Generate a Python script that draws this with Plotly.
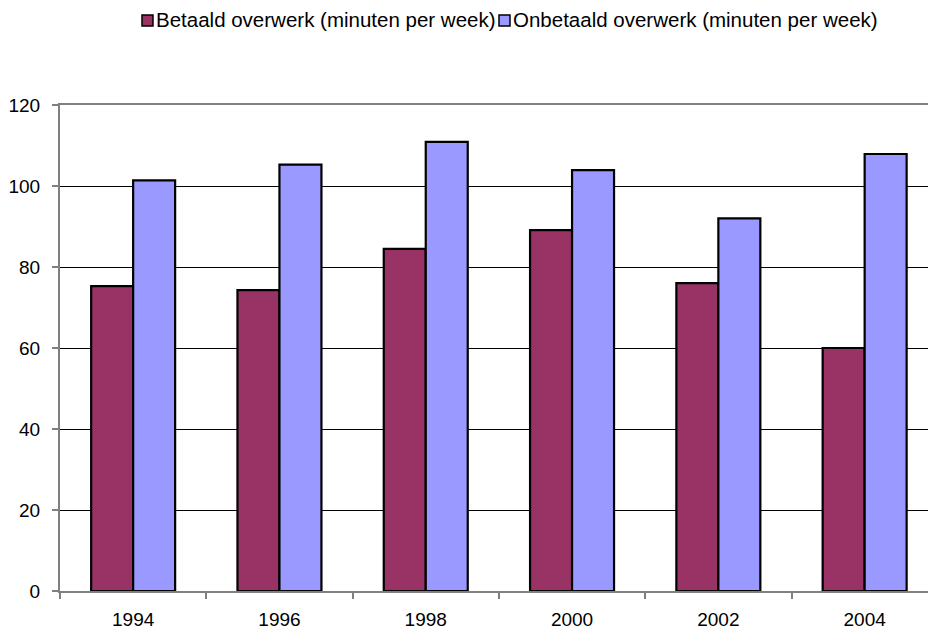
import plotly.graph_objects as go

years = ["1994", "1996", "1998", "2000", "2002", "2004"]
betaald = [75.3, 74.3, 84.5, 89.1, 76.0, 60.0]
onbetaald = [101.4, 105.3, 110.9, 103.9, 92.0, 107.9]
series_names = ["Betaald overwerk (minuten per week)", "Onbetaald overwerk (minuten per week)"]
colors = ["#993366", "#9999FF"]
y_ticks = [0, 20, 40, 60, 80, 100, 120]

W, H = 929, 632
ML, MR, MT, MB = 60, 1, 105, 41
PW, PH = W - ML - MR, H - MT - MB

def px(x):
    return (x - ML) / PW

def py(y):
    return (H - MB - y) / PH

FONT = "Liberation Sans, Arial, sans-serif"

fig = go.Figure()
for name, vals, col in zip(series_names, [betaald, onbetaald], colors):
    fig.add_trace(go.Bar(
        x=years, y=vals, name=name,
        marker=dict(color=col, line=dict(color="#000000", width=2.2)),
        showlegend=False,
    ))

# category spacing ~146.3 px; the chart is cropped on the right
cat_px = 146.3
rng_hi = -0.5 + PW / cat_px

shapes = []
annotations = []
legend_items = [(142, 155), (499, 512)]
for (sq_x, tx), name, col in zip(legend_items, series_names, colors):
    shapes.append(dict(type="rect", xref="paper", yref="paper",
                       x0=px(sq_x), x1=px(sq_x + 11), y0=py(26), y1=py(15),
                       fillcolor=col, line=dict(color="#000000", width=1.5)))
    annotations.append(dict(text=name, xref="paper", yref="paper",
                            x=px(tx), y=py(20), xanchor="left", yanchor="middle",
                            showarrow=False, font=dict(family=FONT, size=20.5, color="#000000"),
                            borderpad=0))

fig.update_layout(
    width=W, height=H,
    margin=dict(l=ML, r=MR, t=MT, b=MB, pad=0),
    paper_bgcolor="#FFFFFF", plot_bgcolor="#FFFFFF",
    barmode="group", bargap=0.426, bargroupgap=0,
    font=dict(family=FONT, size=19, color="#000000"),
    shapes=shapes, annotations=annotations,
    xaxis=dict(type="category", range=[-0.5, rng_hi],
               showline=True, linecolor="#808080", linewidth=2, mirror=True,
               ticks="outside", ticklen=6, tickcolor="#808080", tickwidth=1.5,
               tickson="boundaries", showgrid=False, zeroline=False,
               tickfont=dict(family=FONT, size=19, color="#000000"),
               ticklabelstandoff=10),
    yaxis=dict(range=[0, 120], tickvals=y_ticks,
               showline=True, linecolor="#808080", linewidth=2,
               ticks="outside", ticklen=6, tickcolor="#808080", tickwidth=1.5,
               showgrid=True, gridcolor="#000000", gridwidth=1, zeroline=False,
               tickfont=dict(family=FONT, size=19, color="#000000"),
               ticklabelstandoff=8),
)

fig.write_html("out.html", config={"displayModeBar": False},
               post_script="document.body.style.margin='0';document.body.style.overflow='hidden';")
